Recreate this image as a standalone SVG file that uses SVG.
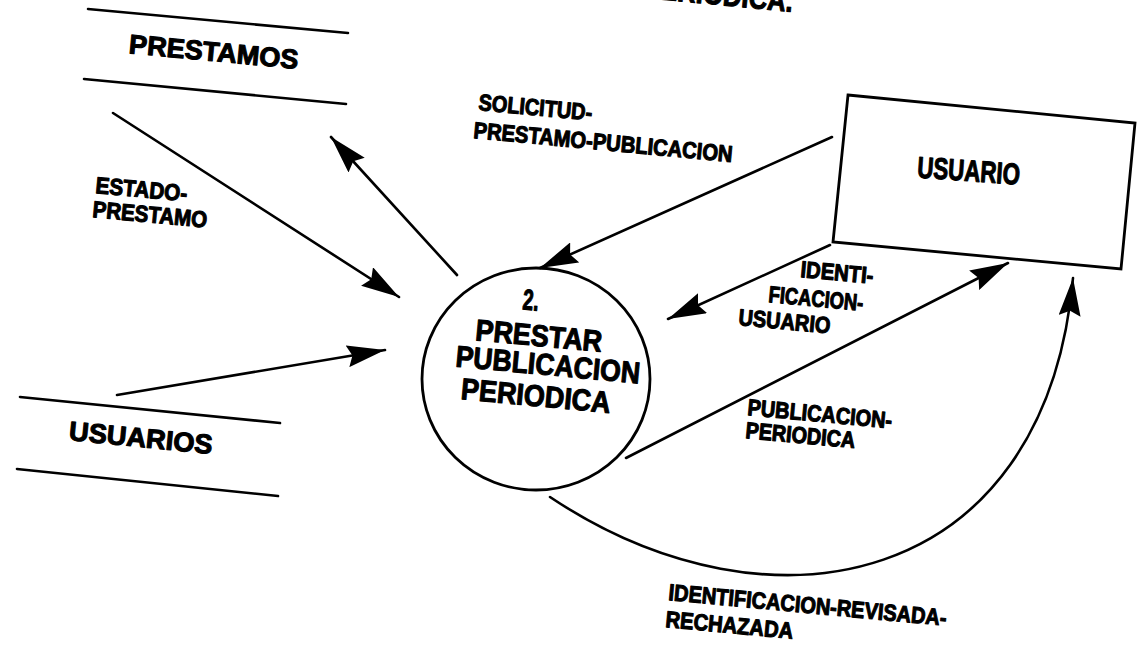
<svg xmlns="http://www.w3.org/2000/svg" width="1140" height="646" viewBox="0 0 1140 646">
<style>
  .bg { fill: #ffffff; }
  .ln { stroke: #000; stroke-width: 2.6; fill: none; stroke-linecap: round; }
  .shape { stroke: #000; stroke-width: 2.8; fill: #ffffff; }
  .t { font-family: "Liberation Sans", Arial, sans-serif; font-weight: bold; fill: #000; stroke: #000; stroke-width: 1.1; stroke-linejoin: round; }
  .big { font-size: 30px; }
  .store { font-size: 27px; }
  .lbl { font-size: 23px; }
</style>
<defs>
  <marker id="arrow" viewBox="0 0 38 22" refX="38" refY="11" markerWidth="38" markerHeight="22" markerUnits="userSpaceOnUse" orient="auto">
    <path d="M0,0 L38,11 L0,22 L5,11 z" fill="#000"/>
  </marker>
</defs>
<rect class="bg" x="0" y="0" width="1140" height="646"/>

<g id="title">
  <text class="t" x="792" y="12" font-size="30" text-anchor="end" textLength="150" lengthAdjust="spacingAndGlyphs" transform="rotate(5.5 792 12)">PERIODICA.</text>
</g>

<g id="store-prestamos">
  <line class="ln" x1="88" y1="9" x2="348" y2="33"/>
  <line class="ln" x1="84" y1="79" x2="346" y2="104"/>
  <text class="t store" x="213" y="61" text-anchor="middle" textLength="170" lengthAdjust="spacingAndGlyphs" transform="rotate(5.3 213 61)">PRESTAMOS</text>
</g>

<g id="store-usuarios">
  <line class="ln" x1="20" y1="397" x2="280" y2="423"/>
  <line class="ln" x1="17" y1="469" x2="278" y2="496"/>
  <text class="t store" x="140" y="447" text-anchor="middle" textLength="144" lengthAdjust="spacingAndGlyphs" transform="rotate(5.6 140 447)">USUARIOS</text>
</g>

<g id="entity-usuario">
  <polygon class="shape" points="848,95 1135,123 1121,269 833,242"/>
  <text class="t big" x="968" y="181" text-anchor="middle" textLength="103" lengthAdjust="spacingAndGlyphs" transform="rotate(4 968 181)">USUARIO</text>
</g>

<g id="process-2">
  <ellipse class="shape" cx="536" cy="379" rx="114" ry="111"/>
  <text class="t" x="530" y="310" font-size="29" text-anchor="middle" textLength="16" lengthAdjust="spacingAndGlyphs" stroke-width="0.4" transform="rotate(5.3 530 310)">2.</text>
  <text class="t big" x="538" y="346" text-anchor="middle" textLength="127" lengthAdjust="spacingAndGlyphs" transform="rotate(5.3 538 346)">PRESTAR</text>
  <text class="t big" x="547" y="375" text-anchor="middle" textLength="185" lengthAdjust="spacingAndGlyphs" transform="rotate(5.3 547 375)">PUBLICACION</text>
  <text class="t big" x="535" y="406" text-anchor="middle" textLength="150" lengthAdjust="spacingAndGlyphs" transform="rotate(5.3 535 406)">PERIODICA</text>
</g>

<g id="connectors">
  <line class="ln" x1="113" y1="113" x2="399" y2="297" marker-end="url(#arrow)"/>
  <line class="ln" x1="457" y1="275" x2="331" y2="137" marker-end="url(#arrow)"/>
  <line class="ln" x1="832" y1="137" x2="540" y2="268" marker-end="url(#arrow)"/>
  <line class="ln" x1="830" y1="245" x2="668" y2="319" marker-end="url(#arrow)"/>
  <line class="ln" x1="626" y1="458" x2="1008" y2="263" marker-end="url(#arrow)"/>
  <line class="ln" x1="117" y1="395" x2="385" y2="350" marker-end="url(#arrow)"/>
  <path class="ln" d="M550,497 C770,644 1045,590 1073,278" marker-end="url(#arrow)"/>
</g>

<g id="labels">
  <text class="t lbl" x="478" y="110" textLength="114" lengthAdjust="spacingAndGlyphs" transform="rotate(5.3 478 110)">SOLICITUD-</text>
  <text class="t lbl" x="473" y="138" textLength="260" lengthAdjust="spacingAndGlyphs" transform="rotate(5.3 473 138)">PRESTAMO-PUBLICACION</text>
  <text class="t lbl" x="95" y="193" textLength="92" lengthAdjust="spacingAndGlyphs" transform="rotate(5.3 95 193)">ESTADO-</text>
  <text class="t lbl" x="92" y="217" textLength="115" lengthAdjust="spacingAndGlyphs" transform="rotate(5.3 92 217)">PRESTAMO</text>
  <text class="t lbl" x="800" y="277" textLength="73" lengthAdjust="spacingAndGlyphs" transform="rotate(5.3 800 277)">IDENTI-</text>
  <text class="t lbl" x="768" y="302" textLength="95" lengthAdjust="spacingAndGlyphs" transform="rotate(5.3 768 302)">FICACION-</text>
  <text class="t lbl" x="738" y="325" textLength="92" lengthAdjust="spacingAndGlyphs" transform="rotate(5.3 738 325)">USUARIO</text>
  <text class="t lbl" x="747" y="415" textLength="145" lengthAdjust="spacingAndGlyphs" transform="rotate(5.3 747 415)">PUBLICACION-</text>
  <text class="t lbl" x="745" y="438" textLength="110" lengthAdjust="spacingAndGlyphs" transform="rotate(5.3 745 438)">PERIODICA</text>
  <text class="t lbl" x="668" y="600" textLength="279" lengthAdjust="spacingAndGlyphs" transform="rotate(5.3 668 600)">IDENTIFICACION-REVISADA-</text>
  <text class="t lbl" x="665" y="627" textLength="128" lengthAdjust="spacingAndGlyphs" transform="rotate(5.3 665 627)">RECHAZADA</text>
</g>
</svg>
